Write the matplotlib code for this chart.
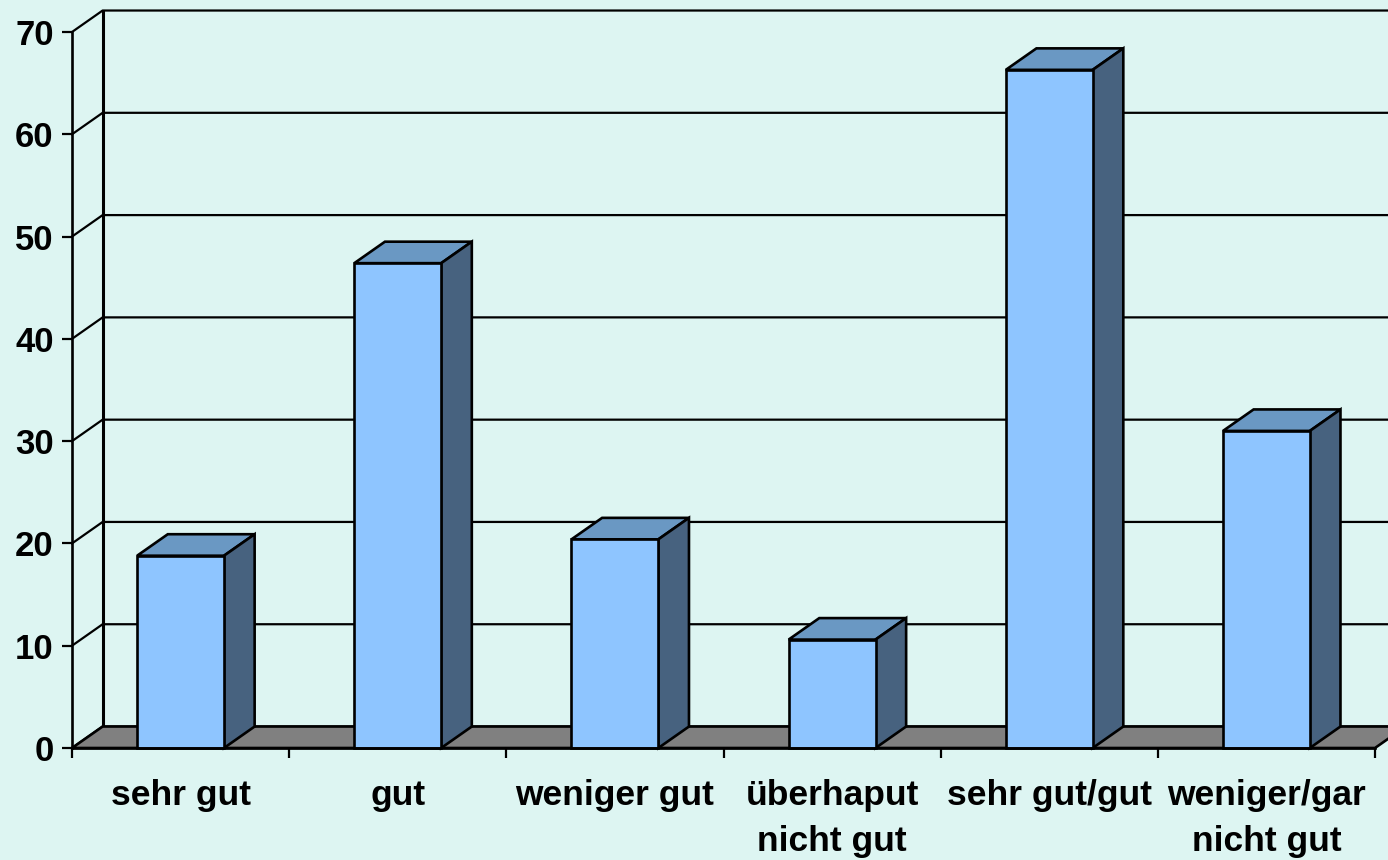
import numpy as np
import matplotlib.pyplot as plt
from matplotlib.patches import Polygon

# Data
categories = ['sehr gut', 'gut', 'weniger gut', 'überhaput\nnicht gut',
              'sehr gut/gut', 'weniger/gar\nnicht gut']
values = [18.8, 47.4, 20.4, 10.6, 66.3, 31.0]
y_ticks = [0, 10, 20, 30, 40, 50, 60, 70]

bg = '#DDF5F2'
front_col = '#8EC5FF'
top_col = '#6A98C3'
side_col = '#47627F'
floor_col = '#808080'

plt.rcParams['font.family'] = ['Liberation Sans', 'DejaVu Sans']
plt.rcParams['font.weight'] = 'bold'

fig = plt.figure(figsize=(13.88, 8.6), dpi=100, facecolor=bg)
ax = fig.add_axes([72 / 1388, 112 / 860, 1303 / 1388, 716 / 860])
ax.set_facecolor('none')

n = len(categories)
ax.set_xlim(0, n)
ax.set_ylim(0, 70)

# depth of the pseudo-3D box (data units)
dx, dy = 0.141, 2.1
bar_w = 0.40
edge_lw = 1.9

# back wall gridlines + left wall diagonals
for v in y_ticks:
    ax.plot([0, dx, n + dx + 0.5], [v, v + dy, v + dy], color='black',
            lw=1.6, clip_on=False, zorder=1, solid_capstyle='projecting')
ax.plot([dx, dx], [dy, 70 + dy], color='black', lw=2.2, clip_on=False, zorder=1)

# floor
floor = Polygon([(0, 0), (n, 0), (n + dx, dy), (dx, dy)], closed=True,
                facecolor=floor_col, edgecolor='black', lw=edge_lw,
                clip_on=False, zorder=2)
ax.add_patch(floor)

# bars
centers = np.arange(n) + 0.5
ax.bar(centers, values, width=bar_w, color=front_col, edgecolor='black',
       linewidth=edge_lw, zorder=5, clip_on=False)
for c, v in zip(centers, values):
    x0, x1 = c - bar_w / 2, c + bar_w / 2
    top = Polygon([(x0, v), (x1, v), (x1 + dx, v + dy), (x0 + dx, v + dy)],
                  closed=True, facecolor=top_col, edgecolor='black', lw=edge_lw,
                  clip_on=False, zorder=4)
    side = Polygon([(x1, 0), (x1 + dx, dy), (x1 + dx, v + dy), (x1, v)],
                   closed=True, facecolor=side_col, edgecolor='black', lw=edge_lw,
                   clip_on=False, zorder=4)
    ax.add_patch(top)
    ax.add_patch(side)

# axes styling
for s in ['top', 'right']:
    ax.spines[s].set_visible(False)
for s in ['left', 'bottom']:
    ax.spines[s].set_linewidth(1.9)
    ax.spines[s].set_zorder(6)

ax.set_yticks(y_ticks)
ax.tick_params(axis='y', direction='out', length=7.2, width=1.6, pad=6,
               labelsize=25)
ax.set_xticks(np.arange(n + 1))
ax.set_xticklabels([])
ax.tick_params(axis='x', which='major', direction='out', length=7.2, width=1.6)
ax.set_xticks(centers, minor=True)
ax.set_xticklabels(categories, minor=True, fontsize=25.5, fontweight='bold',
                   linespacing=1.5)
ax.tick_params(axis='x', which='minor', length=0, pad=22)
for lbl in ax.get_yticklabels():
    lbl.set_fontweight('bold')

fig.savefig('out.png', dpi=100, facecolor=bg)
